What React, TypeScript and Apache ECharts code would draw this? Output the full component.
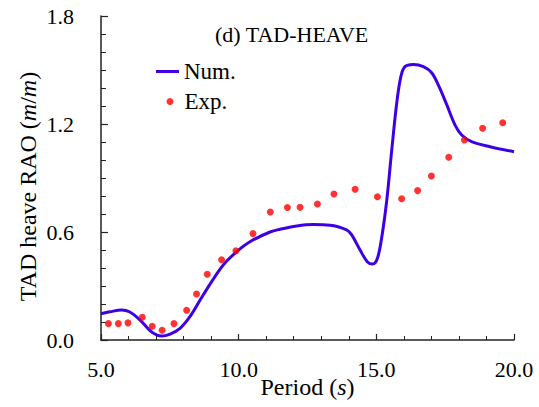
import React, { useEffect, useRef } from "react";
import * as echarts from "echarts";

const numPeriod = [5.0, 5.33, 5.75, 6.03, 6.42, 6.78, 7.02, 7.2, 7.51, 7.87, 8.23, 8.6, 9.02, 9.44, 9.93, 10.41, 11.14, 11.5, 12.11, 12.71, 13.32, 13.92, 14.1, 14.41, 14.67, 14.87, 15.04, 15.2, 15.38, 15.56, 15.74, 15.89, 16.04, 16.34, 16.71, 17.01, 17.25, 17.56, 17.86, 18.1, 18.46, 19.13, 20.0];
const numValue = [0.146, 0.157, 0.167, 0.157, 0.111, 0.052, 0.028, 0.022, 0.033, 0.065, 0.13, 0.222, 0.324, 0.417, 0.491, 0.546, 0.6, 0.615, 0.633, 0.641, 0.638, 0.612, 0.585, 0.5, 0.435, 0.422, 0.454, 0.574, 0.778, 1.056, 1.315, 1.463, 1.519, 1.531, 1.519, 1.485, 1.417, 1.306, 1.194, 1.139, 1.102, 1.074, 1.046];

const expPeriod = [5.27, 5.63, 5.98, 6.5, 6.86, 7.22, 7.65, 8.11, 8.47, 8.86, 9.38, 9.9, 10.52, 11.15, 11.77, 12.23, 12.86, 13.46, 14.23, 15.04, 15.92, 16.5, 17.0, 17.63, 18.2, 18.86, 19.59];
const expValue = [0.091, 0.091, 0.095, 0.126, 0.076, 0.054, 0.091, 0.165, 0.256, 0.365, 0.446, 0.496, 0.591, 0.711, 0.736, 0.737, 0.756, 0.811, 0.837, 0.796, 0.785, 0.83, 0.911, 1.015, 1.111, 1.176, 1.207];

const seriesNames = ["Num.", "Exp."];
const titleText = "(d) TAD-HEAVE";
const xName = "{n|Period (}{i|s}{n|)}";
const yName = "{n|TAD heave RAO (}{i|m}{n|/}{i|m}{n|)}";

const FONT = "Liberation Serif";

export default function App() {
  const ref = useRef<HTMLDivElement>(null);
  useEffect(() => {
    if (!ref.current) return;
    const chart = echarts.init(ref.current, null, { renderer: "svg" });
    const axisLine = { show: true, lineStyle: { color: "#222", width: 1.5 } };
    const rich = {
      n: { fontFamily: FONT, fontSize: 24, fontStyle: "normal", fontWeight: "normal", color: "#000" },
      i: { fontFamily: FONT, fontSize: 24, fontStyle: "italic", fontWeight: "normal", color: "#000" },
    };
    chart.setOption({
      animation: false,
      backgroundColor: "#fff",
      textStyle: { fontFamily: FONT, fontStyle: "normal", fontWeight: "normal" },
      title: {
        text: titleText,
        left: 215,
        top: 23,
        padding: 0,
        textStyle: { fontFamily: FONT, fontSize: 22, fontWeight: "normal", color: "#000", lineHeight: 22 },
      },
      legend: [
        {
          data: [{ name: seriesNames[0], icon: "rect" }],
          left: 156,
          top: 60,
          padding: 0,
          itemWidth: 23,
          itemHeight: 3,
          textStyle: { fontFamily: FONT, fontSize: 23, color: "#000", lineHeight: 23 },
        },
        {
          data: [{ name: seriesNames[1], icon: "circle" }],
          left: 166.5,
          top: 90,
          padding: 0,
          itemWidth: 7,
          itemHeight: 7,
          textStyle: { fontFamily: FONT, fontSize: 23, color: "#000", lineHeight: 23, padding: [0, 0, 0, 6] },
        },
      ],
      grid: { left: 101, right: 25, top: 16, bottom: 67, containLabel: false, outerBoundsMode: "none" },
      xAxis: {
        type: "value",
        min: 5,
        max: 20,
        interval: 5,
        name: xName,
        nameLocation: "middle",
        nameGap: 35,
        nameMoveOverlap: false,
        nameTextStyle: { fontFamily: FONT, fontSize: 24, color: "#000", lineHeight: 24, rich },
        axisLine,
        axisTick: { show: true, inside: true, length: 6, lineStyle: { color: "#222", width: 1.2 } },
        minorTick: { show: true, splitNumber: 5, length: 4, lineStyle: { color: "#222", width: 1 } },
        splitLine: { show: false },
        axisLabel: {
          fontFamily: FONT,
          fontSize: 22,
          color: "#000",
          margin: 18,
          formatter: (v: number) => v.toFixed(1),
        },
      },
      yAxis: {
        type: "value",
        min: 0,
        max: 1.8,
        interval: 0.6,
        name: yName,
        nameLocation: "middle",
        nameGap: 61,
        nameMoveOverlap: false,
        nameTextStyle: { fontFamily: FONT, fontSize: 24, color: "#000", lineHeight: 24, padding: [0, 17, 0, 0], rich },
        axisLine,
        axisTick: { show: true, inside: true, length: 7, lineStyle: { color: "#222", width: 1.2 } },
        minorTick: { show: true, splitNumber: 6, length: 5, lineStyle: { color: "#222", width: 1 } },
        splitLine: { show: false },
        axisLabel: {
          fontFamily: FONT,
          fontSize: 22,
          color: "#000",
          margin: 27,
          formatter: (v: number) => v.toFixed(1),
        },
      },
      series: [
        {
          name: seriesNames[0],
          type: "line",
          data: numPeriod.map((p, i) => [p, numValue[i]]),
          showSymbol: false,
          symbol: "none",
          smooth: 0.35,
          lineStyle: { color: "#3d00e6", width: 3 },
          itemStyle: { color: "#3d00e6" },
          z: 2,
        },
        {
          name: seriesNames[1],
          type: "scatter",
          data: expPeriod.map((p, i) => [p, expValue[i]]),
          symbol: "circle",
          symbolSize: 7,
          itemStyle: { color: "#ff0000" },
          z: 3,
        },
      ],
    });
    return () => chart.dispose();
  }, []);
  return <div ref={ref} style={{ position: "fixed", left: 0, top: 0, width: 539, height: 407 }} />;
}
